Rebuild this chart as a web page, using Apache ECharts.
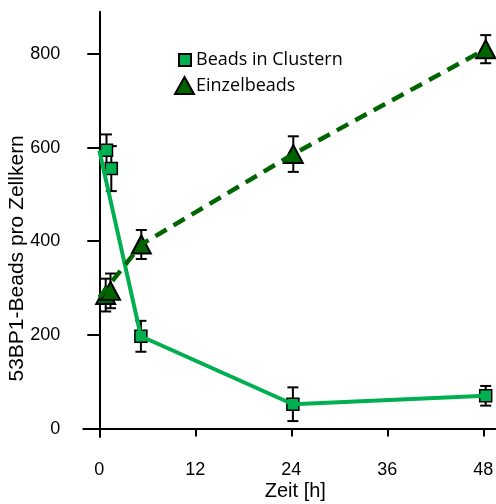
<!DOCTYPE html>
<html><head><meta charset="utf-8">
<script src="https://cdn.jsdelivr.net/npm/echarts@6/dist/echarts.min.js"></script>
<style>html,body{margin:0;padding:0;background:#fff}#c{width:496px;height:504px}</style>
</head><body><div id="c"></div>
<script>
// Data
const xTicks = [0, 12, 24, 36, 48];
const yTicks = [0, 200, 400, 600, 800];

const clusterName = 'Beads in Clustern';
const clusterX = [0.9, 1.5, 5.2, 24.2, 48.3];
const clusterY = [594, 555, 197, 52, 70];
const clusterErr = [34, 48, 33, 36, 21];
const clusterLineX = [0, 5.2, 24.2, 48.3];
const clusterLineY = [594, 197, 52, 70];

const einzelName = 'Einzelbeads';
const einzelX = [0.8, 1.4, 5.25, 24.25, 48.3];
const einzelY = [285, 294, 393, 586, 810];
const einzelErr = [35, 37, 31, 38, 30];
const einzelLineX = [0, 5.25, 24.25, 48.3];
const einzelLineY = [280, 393, 586, 810];

const cLight = '#00b050';
const cDark = '#006400';
const axisFont = 'Liberation Sans, Arial, sans-serif';

const zip = (a, b) => a.map((v, i) => [v, b[i]]);
const zip3 = (a, b, c) => a.map((v, i) => [v, b[i], c[i]]);

function errRender(params, api) {
  const x = api.value(0), y = api.value(1), e = api.value(2);
  const t = api.coord([x, y + e]);
  const b = api.coord([x, y - e]);
  const hw = 5.5;
  const st = { stroke: '#000', lineWidth: 2 };
  return {
    type: 'group',
    children: [
      { type: 'line', shape: { x1: t[0], y1: t[1], x2: b[0], y2: b[1] }, style: st },
      { type: 'line', shape: { x1: t[0] - hw, y1: t[1], x2: t[0] + hw, y2: t[1] }, style: st },
      { type: 'line', shape: { x1: b[0] - hw, y1: b[1], x2: b[0] + hw, y2: b[1] }, style: st }
    ]
  };
}

const chart = echarts.init(document.getElementById('c'), null, { renderer: 'canvas' });
chart.setOption({
  animation: false,
  backgroundColor: '#fff',
  grid: { left: 83.3, top: 11.7, width: 412, height: 425.3, containLabel: false, outerBoundsMode: 'none' },
  legend: [
    {
      data: [{ name: clusterName, icon: 'rect' }],
      left: 173, top: 46, itemWidth: 12, itemHeight: 12, itemGap: 0,
      textStyle: { fontFamily: 'Open Sans', fontSize: 18, color: '#000' }
    },
    {
      data: [{ name: einzelName, icon: 'triangle' }],
      left: 169, top: 71, itemWidth: 19, itemHeight: 17, itemGap: 0,
      textStyle: { fontFamily: 'Open Sans', fontSize: 18, color: '#000', padding: [0, 0, 0, -3] }
    }
  ],
  xAxis: {
    type: 'value', min: -2, max: 49.5,
    name: 'Zeit [h]', nameLocation: 'middle', nameGap: 44, nameMoveOverlap: false,
    nameTextStyle: { fontFamily: axisFont, fontSize: 20, color: '#000', padding: [0, 0, 0, 12] },
    axisLine: { onZero: true, lineStyle: { color: '#000', width: 2 } },
    axisTick: { customValues: xTicks, length: 8, lineStyle: { color: '#000', width: 2 } },
    axisLabel: { customValues: xTicks, margin: 24, fontFamily: axisFont, fontSize: 18, color: '#000' },
    splitLine: { show: false }
  },
  yAxis: {
    type: 'value', min: -18, max: 890,
    name: '53BP1-Beads pro Zellkern', nameLocation: 'middle', nameGap: 56, nameRotate: 90, nameMoveOverlap: false,
    nameTextStyle: { fontFamily: axisFont, fontSize: 21, color: '#000', padding: [0, 68, 0, 0] },
    axisLine: { onZero: true, lineStyle: { color: '#000', width: 2 } },
    axisTick: { customValues: yTicks, length: 12, lineStyle: { color: '#000', width: 2 } },
    axisLabel: { customValues: yTicks, margin: 23, fontFamily: axisFont, fontSize: 18, color: '#000', padding: [14, 0, 0, 0] },
    splitLine: { show: false }
  },
  series: [
    {
      name: 'clusterLine', type: 'line', data: zip(clusterLineX, clusterLineY),
      showSymbol: false, symbol: 'none', silent: true,
      lineStyle: { color: cLight, width: 4 }
    },
    {
      name: 'einzelLine', type: 'line', data: zip(einzelLineX, einzelLineY),
      showSymbol: false, symbol: 'none', silent: true,
      lineStyle: { color: cDark, width: 4.5, type: [13, 8] }
    },
    {
      type: 'custom', renderItem: errRender, data: zip3(clusterX, clusterY, clusterErr),
      encode: { x: 0, y: 1 }
    },
    {
      type: 'custom', renderItem: errRender, data: zip3(einzelX, einzelY, einzelErr),
      encode: { x: 0, y: 1 }
    },
    {
      name: clusterName, type: 'scatter', data: zip(clusterX, clusterY),
      symbol: 'rect', symbolSize: 12,
      itemStyle: { color: cLight, borderColor: '#000', borderWidth: 1.5, opacity: 1 }
    },
    {
      name: einzelName, type: 'scatter', data: zip(einzelX, einzelY),
      symbol: 'triangle', symbolSize: [19, 18],
      itemStyle: { color: cDark, borderColor: '#000', borderWidth: 2, opacity: 1 }
    }
  ]
});
</script></body></html>
